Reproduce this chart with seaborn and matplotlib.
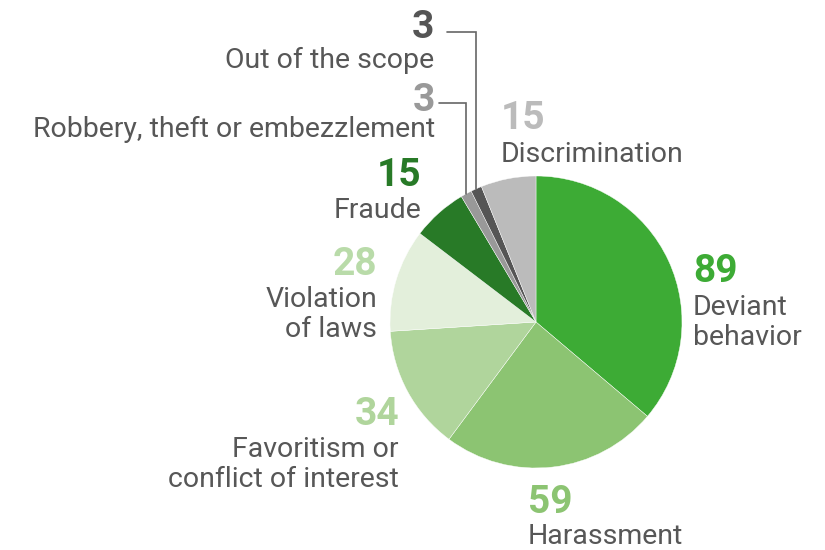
import numpy as np
import matplotlib
matplotlib.use("Agg")
import matplotlib.pyplot as plt
import seaborn as sns

# Reported cases by category (clockwise from 12 o'clock)
categories = [
    "Deviant\nbehavior",
    "Harassment",
    "Favoritism or\nconflict of interest",
    "Violation\nof laws",
    "Fraude",
    "Robbery, theft or embezzlement",
    "Out of the scope",
    "Discrimination",
]
counts = [89, 59, 34, 28, 15, 3, 3, 15]

slice_colors = ["#3dab35", "#8cc472", "#b0d59c", "#e3efdb",
                "#287a27", "#999999", "#555555", "#bbbbbb"]
number_colors = ["#3dab35", "#8cc472", "#b0d59c", "#b9dba9",
                 "#287a27", "#999999", "#555555", "#bbbbbb"]

# label placement: (x anchor, alignment, number baseline, first text baseline)
label_layout = {
    "Deviant\nbehavior": (693, "left", 282, 315),
    "Harassment": (528, "left", 513, 544),
    "Favoritism or\nconflict of interest": (399, "right", 425, 457),
    "Violation\nof laws": (377, "right", 275, 307),
    "Fraude": (421, "right", 186, 218),
    "Robbery, theft or embezzlement": (435, "right", 111, 137),
    "Out of the scope": (434, "right", 38, 68),
    "Discrimination": (501, "left", 129, 162),
}
# leader lines for the two thin slices: (start x, elbow y)
leaders = {
    "Robbery, theft or embezzlement": (439, 103),
    "Out of the scope": (447, 32),
}

sns.set_theme(style="white")
plt.rcParams["font.family"] = ["Roboto", "DejaVu Sans"]

TEXT = "#575757"
LINE_SPACING = 30
CX, CY, R = 536, 322, 146

fig = plt.figure(figsize=(8.25, 5.5), dpi=100)
ax = fig.add_axes([0, 0, 1, 1])
ax.axis("off")

palette = sns.color_palette(slice_colors)
wedges, _ = ax.pie(
    counts, colors=palette, center=(CX, CY), radius=R,
    startangle=-90, counterclock=True,
    wedgeprops=dict(edgecolor="white", linewidth=0.3),
)
# pixel-like coordinates, y growing downward
ax.set_xlim(0, 825)
ax.set_ylim(550, 0)
ax.set_aspect("equal")

for cat, n, ncol, w in zip(categories, counts, number_colors, wedges):
    x, ha, ynum, ytxt = label_layout[cat]
    ax.text(x, ynum, str(n), ha=ha, va="baseline", fontsize=28,
            fontweight="bold", color=ncol)
    for i, line in enumerate(cat.split("\n")):
        ax.text(x, ytxt + i * LINE_SPACING, line, ha=ha, va="baseline",
                fontsize=20.5, color=TEXT)
    if cat in leaders:
        x0, yel = leaders[cat]
        mid = np.deg2rad((w.theta1 + w.theta2) / 2)
        ex = CX + R * np.cos(mid)
        ey = CY + R * np.sin(mid)
        ax.plot([x0, ex, ex], [yel, yel, ey], color="#666666", lw=1.2,
                solid_joinstyle="miter")

fig.savefig("out.png", dpi=100, facecolor="white")
